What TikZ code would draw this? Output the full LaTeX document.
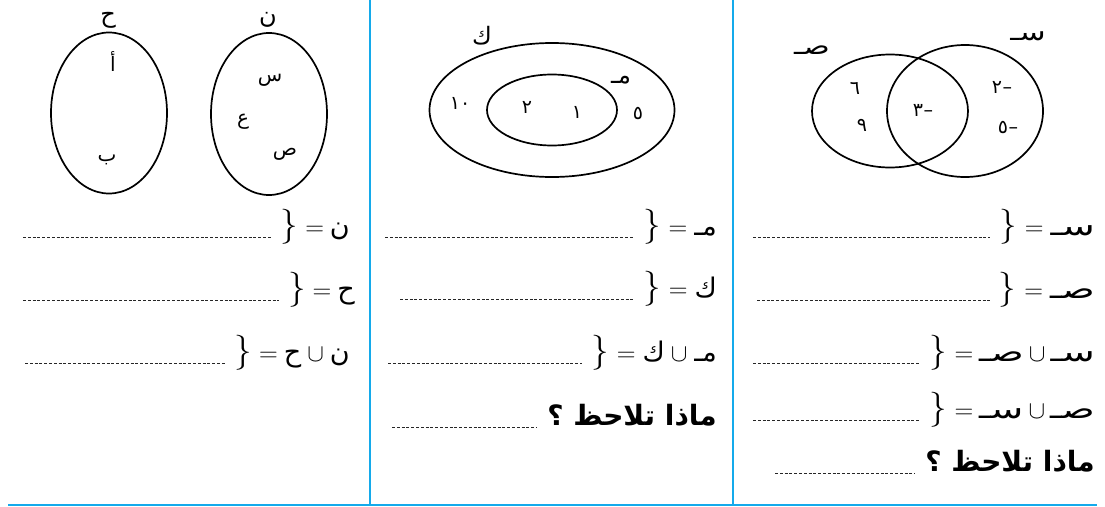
\documentclass[tikz,border=0pt]{standalone}
\usepackage{fontspec}
\usepackage{graphicx}
\usetikzlibrary{shapes.geometric}
\TeXXeTstate=1
\newfontfamily\arabicfont[Script=Arabic]{DejaVu Sans}
\definecolor{ruleblue}{RGB}{20,170,235}
\newcommand\myBrace{{\fontsize{35}{35}\selectfont\}}}
\newcommand\myEq{{\fontsize{26}{26}\selectfont =}}
\newcommand\myCup{{\fontsize{26}{26}\selectfont$\cup$}}
\newcommand\setL[1]{{\arabicfont\fontsize{27}{27}\selectfont\beginR #1\endR}}
\newcommand\setW[1]{\scalebox{1.45}[1]{\setL{#1}}}
\newcommand\negN[1]{#1\kern0.5pt–}
\tikzset{
  venn/.style={draw=black, line width=1.7pt, ellipse, inner sep=0pt},
  lbl/.style={font=\arabicfont\fontsize{24}{26}\selectfont, inner sep=0pt},
  elem/.style={font=\arabicfont\fontsize{20}{22}\selectfont, inner sep=0pt},
  num/.style={font=\arabicfont\fontsize{19}{21}\selectfont, inner sep=0pt},
  row/.style={inner sep=0pt, anchor=base east},
  quest/.style={inner sep=0pt, anchor=base east, font=\arabicfont\bfseries\fontsize{28}{30}\selectfont},
  dots/.style={draw=black!85, line width=0.7pt, dash pattern=on 3pt off 1.8pt},
  bluerule/.style={draw=ruleblue, line width=1.4pt}
}
\begin{document}
\begin{tikzpicture}[x=1pt,y=-1pt]
\useasboundingbox (0,0) rectangle (1105,506);
% frame lines
\coordinate (v1t) at (370,0); \coordinate (v1b) at (370,505);
\coordinate (v2t) at (733,0); \coordinate (v2b) at (733,505);
\coordinate (hl) at (8,505); \coordinate (hr) at (1097,505);
\draw[bluerule] (v1t) -- (v1b);
\draw[bluerule] (v2t) -- (v2b);
\draw[bluerule] (hl) -- (hr);

% ---------- left panel ----------
\node[venn, minimum width=116pt, minimum height=161pt] (H) at (109,113) {};
\node[venn, minimum width=116pt, minimum height=162pt] (N) at (269,114) {};
\node[lbl] (Hl) at (108,20) {ح};
\node[lbl] (Nl) at (268,20) {ن};
\node[elem] (ea) at (113,62) {أ};
\node[elem] (eb) at (107,160) {ب};
\node[elem] (es) at (270,80) {س};
\node[elem] (eo) at (243,122) {ع};
\node[elem] (ep) at (285,154) {ص};

\node[row] (L1) at (350,235) {\myBrace\hspace{7pt}\myEq\hspace{6pt}\setL{ن}};
\node[row] (L2) at (355,298) {\myBrace\hspace{7pt}\myEq\hspace{6pt}\setL{ح}};
\node[row] (L3) at (350,361) {\myBrace\hspace{7pt}\myEq\hspace{6pt}\setL{ح}\hspace{6pt}\myCup\hspace{6pt}\setL{ن}};
\coordinate (L1d) at (23,237);
\coordinate (L2d) at (23,300);
\coordinate (L3d) at (25,363);
\draw[dots] (L1d) -- ([xshift=-9pt]L1.west |- L1d);
\draw[dots] (L2d) -- ([xshift=-9pt]L2.west |- L2d);
\draw[dots] (L3d) -- ([xshift=-9pt]L3.west |- L3d);

% ---------- middle panel ----------
\node[venn, minimum width=245pt, minimum height=134pt] (K) at (552,110) {};
\node[venn, minimum width=130pt, minimum height=71pt] (M) at (552,110) {};
\node[lbl] (Kl) at (482,36) {ك};
\node[lbl] (Ml) at (621,80) {مـ};
\node[num] (n10) at (460,103) {١٠};
\node[num] (n2) at (527,107) {٢};
\node[num] (n1) at (577,112) {١};
\node[num] (n5) at (638,113) {٥};

\node[row] (M1) at (717,235) {\myBrace\hspace{8pt}\myEq\hspace{7pt}\setL{مـ}};
\node[row] (M2) at (717,297) {\myBrace\hspace{8pt}\myEq\hspace{7pt}\setL{ك}};
\node[row] (M3) at (717,361) {\myBrace\hspace{8pt}\myEq\hspace{7pt}\setL{ك}\hspace{6pt}\myCup\hspace{7pt}\setL{مـ}};
\node[quest] (M4) at (717,425) {\beginR ماذا تلاحظ ؟\endR};
\coordinate (M1d) at (385,237);
\coordinate (M2d) at (400,299);
\coordinate (M3d) at (388,363);
\coordinate (M4d) at (392,427);
\draw[dots] (M1d) -- ([xshift=-9pt]M1.west |- M1d);
\draw[dots] (M2d) -- ([xshift=-9pt]M2.west |- M2d);
\draw[dots] (M3d) -- ([xshift=-9pt]M3.west |- M3d);
\draw[dots] (M4d) -- ([xshift=-10pt]M4.west |- M4d);

% ---------- right panel ----------
\node[venn, minimum width=156pt, minimum height=113pt] (Y) at (890,111) {};
\node[venn, minimum width=156pt, minimum height=132pt] (X) at (965,111) {};
\node[lbl] (Yl) at (812,50) {\scalebox{1.3}[1]{صـ}};
\node[lbl] (Xl) at (1028,36) {\scalebox{1.3}[1]{سـ}};
\node[num] (r6) at (855,88) {٦};
\node[num] (r9) at (862,125) {٩};
\node[num] (r3) at (923,110) {\negN{٣}};
\node[num] (r2) at (1002,87) {\negN{٢}};
\node[num] (r5) at (1008,127) {\negN{٥}};

\node[row] (R1) at (1095,235) {\myBrace\hspace{8pt}\myEq\hspace{7pt}\setW{سـ}};
\node[row] (R2) at (1095,298) {\myBrace\hspace{8pt}\myEq\hspace{7pt}\setW{صـ}};
\node[row] (R3) at (1095,361) {\myBrace\hspace{8pt}\myEq\hspace{6pt}\setW{صـ}\hspace{5pt}\myCup\hspace{5pt}\setW{سـ}};
\node[row] (R4) at (1095,418) {\myBrace\hspace{8pt}\myEq\hspace{6pt}\setW{سـ}\hspace{5pt}\myCup\hspace{5pt}\setW{صـ}};
\node[quest] (R5) at (1095,471) {\beginR ماذا تلاحظ ؟\endR};
\coordinate (R1d) at (753,237);
\coordinate (R2d) at (757,300);
\coordinate (R3d) at (753,363);
\coordinate (R4d) at (753,420);
\coordinate (R5d) at (775,473);
\draw[dots] (R1d) -- ([xshift=-9pt]R1.west |- R1d);
\draw[dots] (R2d) -- ([xshift=-9pt]R2.west |- R2d);
\draw[dots] (R3d) -- ([xshift=-9pt]R3.west |- R3d);
\draw[dots] (R4d) -- ([xshift=-9pt]R4.west |- R4d);
\draw[dots] (R5d) -- ([xshift=-10pt]R5.west |- R5d);
\end{tikzpicture}
\end{document}
